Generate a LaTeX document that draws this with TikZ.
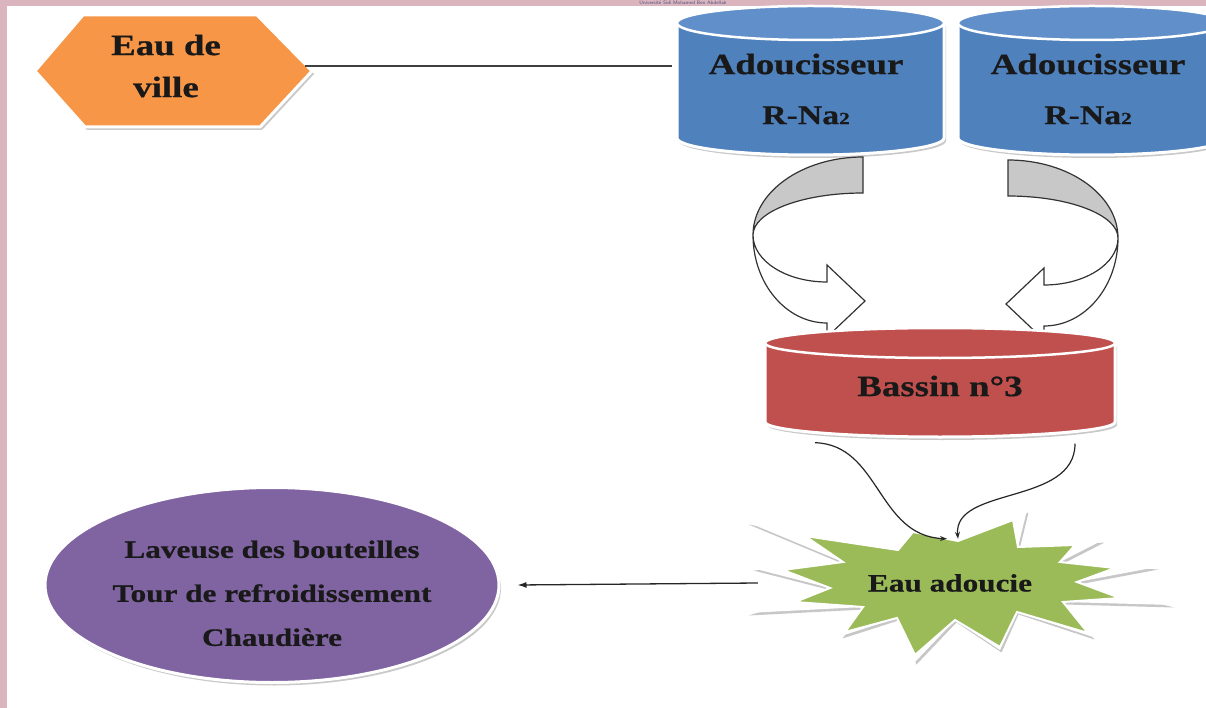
\documentclass[tikz,border=0pt]{standalone}
\usepackage{fontspec}
\setmainfont{Liberation Serif}[FakeStretch=1.25,BoldFeatures={FakeBold=0.6}]
\usetikzlibrary{shapes.geometric,shadows,arrows.meta}
\definecolor{pinkbg}{RGB}{218,181,190}
\definecolor{villeorange}{RGB}{247,150,70}
\definecolor{tankblue}{RGB}{79,129,189}
\definecolor{tanktop}{RGB}{96,143,201}
\definecolor{tankred}{RGB}{192,80,77}
\definecolor{burstgreen}{RGB}{155,187,89}
\definecolor{usepurple}{RGB}{128,100,162}
\definecolor{bandgray}{RGB}{200,200,200}

\tikzset{
  shapeshadow/.style={drop shadow={shadow xshift=2pt,shadow yshift=-3pt,fill=black!35,opacity=.6}},
  lbl/.style={font=\bfseries\fontsize{29.5}{50}\selectfont,text=black!90,align=center,inner sep=0pt},
  flow/.style={line width=1.2pt,black!85,-{Stealth[length=7pt,width=5pt]}},
}

% left, right, top y, bottom y, y radius, body colour, top colour
\newcommand{\tank}[7]{%
  \fill[#6,draw=white,line width=3pt,shapeshadow] (#1,#3) -- (#1,#4)
    arc[start angle=180,end angle=0,x radius={(#2-#1)/2},y radius=#5] -- (#2,#3) -- cycle;
  \fill[#7,draw=white,line width=2.5pt] ({(#1+#2)/2},#3) ellipse[x radius={(#2-#1)/2},y radius=#5];
}

% grey back band and white front band of a turning arrow
\newcommand{\turnarrow}{%
  \filldraw[fill=bandgray,draw=black!80,line width=1.2pt] (0,0) -- (0,36)
    arc[start angle=270,end angle=180,x radius=110,y radius=42]
    arc[start angle=180,end angle=270,x radius=110,y radius=78] -- cycle;
  \filldraw[fill=white,draw=black!80,line width=1.2pt] (-110,78)
    arc[start angle=180,end angle=90,x radius=74,y radius=47]
    -- (-36,108) -- (2,144) -- (-36,180) -- (-36,166)
    arc[start angle=90,end angle=180,x radius=74,y radius=88] -- cycle;
}

\newcommand{\burstout}{(958,541) -- (1027,510) -- (1018,547) -- (1103,540) -- (1060,562) -- (1157,567)
  -- (1077,582) -- (1173,605) -- (1063,602) -- (1093,637) -- (1017,612) -- (1000,650) -- (955,620)
  -- (915,662) -- (897,618) -- (841,636) -- (863,607) -- (747,613) -- (830,588) -- (752,568)
  -- (843,562) -- (747,522) -- (898,550) -- (913,530) -- cycle}
\newcommand{\burstin}{(958,541) -- (1013,520) -- (1018,547) -- (1075,545) -- (1060,562) -- (1115,568)
  -- (1077,582) -- (1120,598) -- (1063,602) -- (1088,633) -- (1017,612) -- (1000,647) -- (955,620)
  -- (915,655) -- (897,618) -- (845,632) -- (863,607) -- (795,602) -- (830,588) -- (783,570)
  -- (843,562) -- (805,536) -- (898,550) -- (913,532) -- cycle}

\begin{document}
\begin{tikzpicture}[x=1pt,y=-1pt]
\useasboundingbox (0,0) rectangle (1206,708);
\fill[pinkbg] (0,0) rectangle (1206,708);
\fill[white] (7,6) rectangle (1206,708);

% eau de ville
\fill[villeorange,draw=white,line width=3pt,shapeshadow] (35,71) -- (83,15) -- (257,15) -- (312,71) -- (260,127) -- (85,127) -- cycle;
\node[lbl,font=\bfseries\fontsize{29.5}{42}\selectfont,minimum width=277pt,minimum height=112pt] (ville) at (166,66) {Eau de\\ville};

% adoucisseurs
\tank{677}{944}{23}{138}{17}{tankblue}{tanktop}
\tank{958}{1226}{23}{138}{17}{tankblue}{tanktop}
\node[lbl,minimum width=267pt,minimum height=118pt] (adou1) at (806,89) {Adoucisseur\\{\fontsize{27}{50}\selectfont R-Na{\fontsize{17}{17}\selectfont 2}}};
\node[lbl,minimum width=267pt,minimum height=118pt] (adou2) at (1088,89) {Adoucisseur\\{\fontsize{27}{50}\selectfont R-Na{\fontsize{17}{17}\selectfont 2}}};
\draw[line width=1.6pt,black!75] (ville.east) -- (ville.east -| adou1.west);

\begin{scope}[shift={(863,157)}]
  \turnarrow
\end{scope}
\begin{scope}[shift={(1008,160)},xscale=-1]
  \turnarrow
\end{scope}

% bassin
\tank{765}{1115}{343}{422}{15}{tankred}{tankred}
\node[lbl,minimum width=350pt,minimum height=95pt] (bassin) at (940,386) {Bassin n°3};

% eau adoucie
\fill[black!22,shift={(1.5,2.5)}] \burstout;
\fill[white] \burstout;
\filldraw[fill=burstgreen,draw=white,line width=2pt] \burstin;
\node[lbl,font=\bfseries\fontsize{25}{30}\selectfont,minimum width=384pt,minimum height=88pt] (douce) at (950,583) {Eau adoucie};

\draw[flow] ([xshift=-125pt,yshift=-9pt]bassin.south) .. controls +(65,2) and +(-70,-3) .. ([xshift=-3pt]douce.north);
\draw[flow] ([xshift=135pt,yshift=-10pt]bassin.south) .. controls +(0,62) and +(-5,-53) .. ([xshift=8pt]douce.north);

% usages
\node[ellipse,fill=usepurple,draw=white,line width=3pt,shapeshadow,minimum width=454pt,minimum height=195pt,
  lbl,font=\bfseries\fontsize{25}{44}\selectfont] (usages) at (272,585) {\\[-10pt]Laveuse des bouteilles\\Tour de refroidissement\\Chaudière};
\draw[line width=1.3pt,black!85,-{Latex[length=9pt,width=6pt]}] (douce.west) -- ([xshift=17pt]usages.east);

\node[font=\sffamily\fontsize{5}{5}\selectfont,text=blue!30!black!70] (wm) at (683,3) {Université Sidi Mohamed Ben Abdellah};
\end{tikzpicture}
\end{document}
